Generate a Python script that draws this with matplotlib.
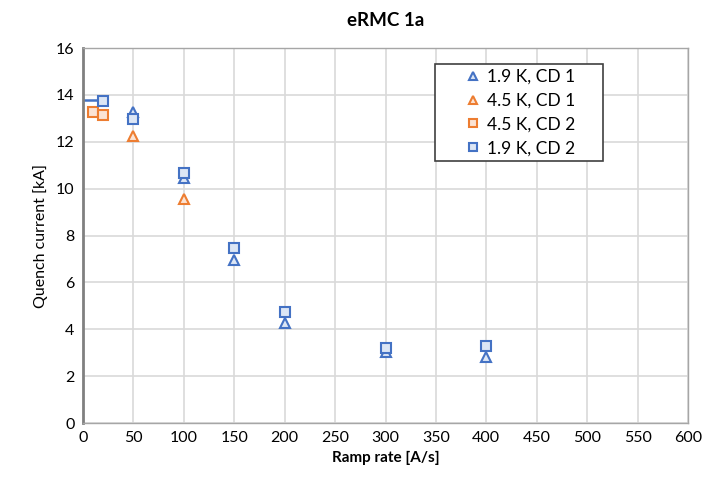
import matplotlib.pyplot as plt
from matplotlib.patches import Rectangle

plt.rcParams['font.family'] = ['Lato', 'DejaVu Sans']

# 1.9 K, CD 1
rate_19_cd1 = [50, 100, 150, 200, 300, 400]
iq_19_cd1 = [13.25, 10.45, 6.95, 4.25, 3.05, 2.8]

# 4.5 K, CD 1
rate_45_cd1 = [50, 100]
iq_45_cd1 = [12.25, 9.55]

# 4.5 K, CD 2
rate_45_cd2 = [10, 20]
iq_45_cd2 = [13.25, 13.15]

# 1.9 K, CD 2
rate_19_cd2 = [20, 50, 100, 150, 200, 300, 400]
iq_19_cd2 = [13.72, 12.95, 10.65, 7.45, 4.75, 3.2, 3.3]

# short reference line at the left
ref_x = [0, 20]
ref_y = [13.8, 13.8]

blue = "#4472C4"
orange = "#ED7D31"

fig = plt.figure(figsize=(7.23, 4.83), dpi=100)
ax = fig.add_axes([0.1148, 0.1242, 0.8368, 0.7764])

ax.plot(ref_x, ref_y, color=blue, lw=1.8, zorder=2)

ms = 6.5
ax.plot(rate_19_cd1, iq_19_cd1, ls="none", marker="^", ms=ms, mfc="#DCE6F5", mec=blue, mew=1.5,
        label="1.9 K, CD 1", zorder=3)
ax.plot(rate_45_cd1, iq_45_cd1, ls="none", marker="^", ms=ms, mfc="#FBE3D4", mec=orange, mew=1.5,
        label="4.5 K, CD 1", zorder=3)
ax.plot(rate_45_cd2, iq_45_cd2, ls="none", marker="s", ms=ms, mfc="#FBE3D4", mec=orange, mew=1.5,
        label="4.5 K, CD 2", zorder=3)
ax.plot(rate_19_cd2, iq_19_cd2, ls="none", marker="s", ms=ms, mfc="#DCE6F5", mec=blue, mew=1.5,
        label="1.9 K, CD 2", zorder=3)

ax.set_xlim(0, 600)
ax.set_ylim(0, 16)
ax.set_xticks(range(0, 601, 50))
ax.set_yticks(range(0, 17, 2))
ax.grid(True, color="#D9D9D9", lw=1.2)
ax.set_axisbelow(True)
ax.tick_params(length=0, labelsize=11.5, pad=6)
for s in ax.spines.values():
    s.set_color("#A6A6A6")
    s.set_linewidth(1.0)
ax.spines["left"].set_color("#808080")
ax.spines["left"].set_linewidth(2)

ax.set_xlabel("Ramp rate [A/s]", fontsize=11, fontweight="bold", labelpad=4)
ax.set_ylabel("Quench current [kA]", fontsize=11.5, labelpad=6)
ax.set_title("eRMC 1a", fontsize=13.5, fontweight="bold", pad=16)

# legend box: white frame, entries centred inside
box = Rectangle((0.582, 0.699), 0.2775, 0.258, transform=ax.transAxes, facecolor="white",
                edgecolor="#404040", lw=1.2, zorder=4)
ax.add_patch(box)
leg = ax.legend(loc="center", bbox_to_anchor=(0.7207, 0.828), borderaxespad=0, fontsize=12.5,
                frameon=False, handletextpad=0.2, handlelength=1.2,
                borderpad=0, labelspacing=0.45, markerscale=0.8)
leg.set_zorder(5)

fig.savefig("out.png", dpi=100)
